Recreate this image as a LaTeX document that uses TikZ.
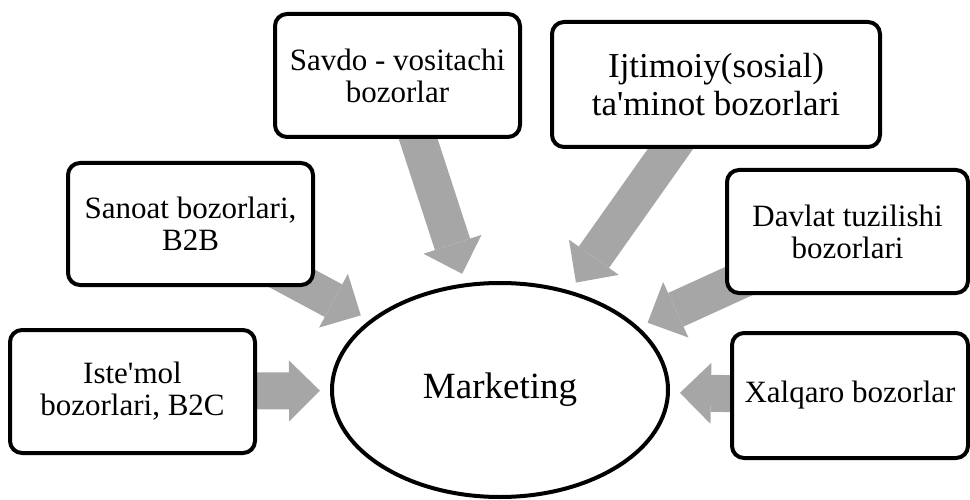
\documentclass[tikz,border=0pt]{standalone}
\usepackage{fontspec}
\setmainfont{Liberation Serif}
\usetikzlibrary{arrows.meta,backgrounds,shapes.geometric}

\definecolor{arrowgray}{HTML}{A6A6A6}

\begin{document}
\begin{tikzpicture}[x=1pt,y=-1pt,
        market/.style = {draw, fill=white, line width=4pt,
            rounded corners=12pt,
            align=center, inner sep=0pt,
            font=\fontsize{31}{32}\selectfont},
        flow/.style = {draw=arrowgray, line width=37pt,
            -{Triangle[length=31pt,width=61pt,line width=0pt]},
            shorten >=10pt}]
        \useasboundingbox (0,0) rectangle (970,500);

        % Centre
        \node[ellipse, draw, fill=white, line width=4pt, inner sep=0pt,
            minimum width=336pt, minimum height=214pt,
            font=\fontsize{37}{40}\selectfont] (mkt) at (500,390) {Marketing};

        % Markets
        \node[market, minimum width=245pt, minimum height=123pt] (savdo) at (397.5,75.5) {Savdo - vositachi\\bozorlar};
        \node[market, minimum width=328pt, minimum height=125pt,
            font=\fontsize{35}{37.7}\selectfont] (ijtimoiy) at (716,84.5) {Ijtimoiy(sosial)\\ta\textquotesingle minot bozorlari};
        \node[market, minimum width=245pt, minimum height=122pt] (sanoat) at (190.5,224) {Sanoat bozorlari,\\B2B};
        \node[market, minimum width=241pt, minimum height=123pt] (davlat) at (847.5,231.5) {Davlat tuzilishi\\bozorlari};
        \node[market, minimum width=245pt, minimum height=123pt] (istemol) at (132.5,391.5) {Iste\textquotesingle mol\\bozorlari, B2C};
        \node[market, minimum width=236pt, minimum height=125pt] (xalqaro) at (850,395.5) {Xalqaro bozorlar};

        % Arrows behind the boxes
        \begin{scope}[on background layer]
            \draw[flow] (savdo.center) -- (mkt);
            \draw[flow] (ijtimoiy.center) -- (mkt);
            \draw[flow] (sanoat.center) -- (mkt);
            \draw[flow] (davlat.center) -- (mkt);
            \draw[flow] (istemol.center) -- (mkt);
            \draw[flow] (xalqaro.center) -- (mkt);
        \end{scope}
    \end{tikzpicture}
\end{document}
